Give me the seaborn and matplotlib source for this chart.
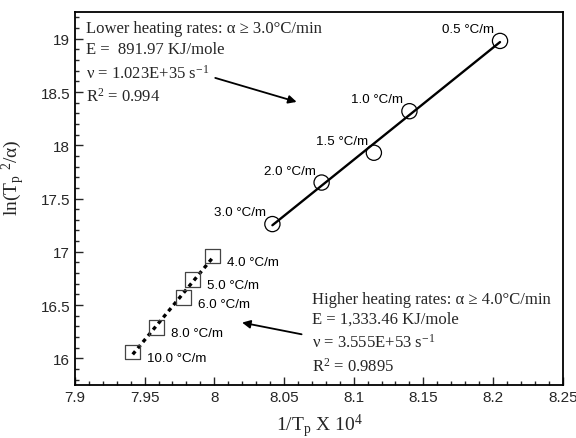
import numpy as np
import pandas as pd
import matplotlib
matplotlib.use("Agg")
import matplotlib.pyplot as plt
import seaborn as sns
from matplotlib.ticker import MultipleLocator

# ---- data ----
low_rates = ["0.5 °C/m", "1.0 °C/m", "1.5 °C/m", "2.0 °C/m", "3.0 °C/m"]
low_x = [8.205, 8.140, 8.1145, 8.077, 8.0417]
low_y = [18.98, 18.32, 17.93, 17.65, 17.26]

high_rates = ["4.0 °C/m", "5.0 °C/m", "6.0 °C/m", "8.0 °C/m", "10.0 °C/m"]
high_x = [7.9988, 7.9845, 7.978, 7.9587, 7.9415]
high_y = [16.96, 16.74, 16.57, 16.29, 16.06]

low_text = ["Lower heating rates: α ≥ 3.0°C/min",
            "E =  891.97 KJ/mole",
            r"ν = 1.023E+35 s$^{\mathregular{-1}}$",
            r"R$^{\mathregular{2}}$ = 0.994"]
high_text = ["Higher heating rates: α ≥ 4.0°C/min",
             "E = 1,333.46 KJ/mole",
             r"ν = 3.555E+53 s$^{\mathregular{-1}}$",
             r"R$^{\mathregular{2}}$ = 0.9895"]

xticks = [7.9, 7.95, 8.0, 8.05, 8.1, 8.15, 8.2, 8.25]
xtick_labels = ["7.9", "7.95", "8", "8.05", "8.1", "8.15", "8.2", "8.25"]
yticks = [16, 16.5, 17, 17.5, 18, 18.5, 19]
ytick_labels = ["16", "16.5", "17", "17.5", "18", "18.5", "19"]

low_df = pd.DataFrame({"x": low_x, "y": low_y, "rate": low_rates})
high_df = pd.DataFrame({"x": high_x, "y": high_y, "rate": high_rates})

# fitted lines
pl = np.polyfit(low_df.x, low_df.y, 1)
ph = np.polyfit(high_df.x, high_df.y, 1)
lx = np.array([min(low_x), max(low_x)])
hx = np.array([min(high_x), max(high_x)])
fit_low = pd.DataFrame({"x": lx, "y": np.polyval(pl, lx)})
fit_high = pd.DataFrame({"x": hx, "y": np.polyval(ph, hx)})

sns.set_style("ticks")
plt.rcParams["font.family"] = ["Liberation Sans", "DejaVu Sans"]
plt.rcParams["mathtext.fontset"] = "custom"
plt.rcParams["mathtext.rm"] = "Liberation Serif"
plt.rcParams["mathtext.it"] = "Liberation Serif:italic"
plt.rcParams["mathtext.bf"] = "Liberation Serif:bold"

fig = plt.figure(figsize=(5.76, 4.39), dpi=100)
ax = fig.add_axes([0.130, 0.121, 0.847, 0.849])

sns.lineplot(data=fit_low, x="x", y="y", ax=ax, color="black", lw=1.7, zorder=2)
sns.lineplot(data=fit_high, x="x", y="y", ax=ax, color="black", lw=2.4,
             linestyle=(0, (1.2, 1.2)), zorder=2)
sns.scatterplot(data=low_df, x="x", y="y", ax=ax, marker="o", s=120,
                facecolor="none", edgecolor="black", linewidth=0.9, zorder=3)
sns.scatterplot(data=high_df, x="x", y="y", ax=ax, marker="s", s=110,
                facecolor="none", edgecolor="#444444", linewidth=0.9, zorder=3)

for _, r in low_df.iterrows():
    ax.annotate(r.rate, (r.x, r.y), xytext=(-6, 6), textcoords="offset pixels",
                ha="right", va="bottom", fontsize=9.6, color="black")
for _, r in high_df.iterrows():
    ax.annotate(r.rate, (r.x, r.y), xytext=(14, -6), textcoords="offset pixels",
                ha="left", va="center", fontsize=9.6, color="black")

serif = ["Liberation Serif", "DejaVu Serif"]
for t, yy in zip(low_text, [0.957, 0.901, 0.838, 0.777]):
    ax.text(0.0225, yy, t, transform=ax.transAxes, family=serif, fontsize=12,
            ha="left", va="center")
for t, yy in zip(high_text, [0.231, 0.177, 0.116, 0.051]):
    ax.text(0.486, yy, t, transform=ax.transAxes, family=serif, fontsize=12,
            ha="left", va="center")

ax.annotate("", xy=(8.061, 18.40), xytext=(7.9988, 18.64),
            arrowprops=dict(arrowstyle="-|>", color="black", lw=1.3,
                            mutation_scale=12))
ax.annotate("", xy=(8.018, 16.34), xytext=(8.0646, 16.22),
            arrowprops=dict(arrowstyle="-|>", color="black", lw=1.3,
                            mutation_scale=12))

ax.set_xlim(7.9, 8.25)
ax.set_ylim(15.75, 19.25)
ax.set_xticks(xticks)
ax.set_xticklabels(xtick_labels)
ax.set_yticks(yticks)
ax.set_yticklabels(ytick_labels)
ax.xaxis.set_minor_locator(MultipleLocator(0.01))
ax.yaxis.set_minor_locator(MultipleLocator(0.1))
ax.tick_params(which="both", direction="in", top=False, right=False,
               labelsize=11, width=1)
ax.tick_params(which="major", length=6)
ax.tick_params(which="minor", length=3)
for s in ax.spines.values():
    s.set_linewidth(1.3)
    s.set_color("black")

ax.set_xlabel(r"1/T$_{\mathregular{p}}$ X 10$^{\mathregular{4}}$", family=serif,
              fontsize=14, labelpad=6)
ax.set_ylabel(r"ln(T$_{\mathregular{p}}$ $^{\mathregular{2}}$/α)", family=serif,
              fontsize=14)
ax.yaxis.set_label_coords(-0.098, 0.56)

fig.savefig("out.png", dpi=100)
